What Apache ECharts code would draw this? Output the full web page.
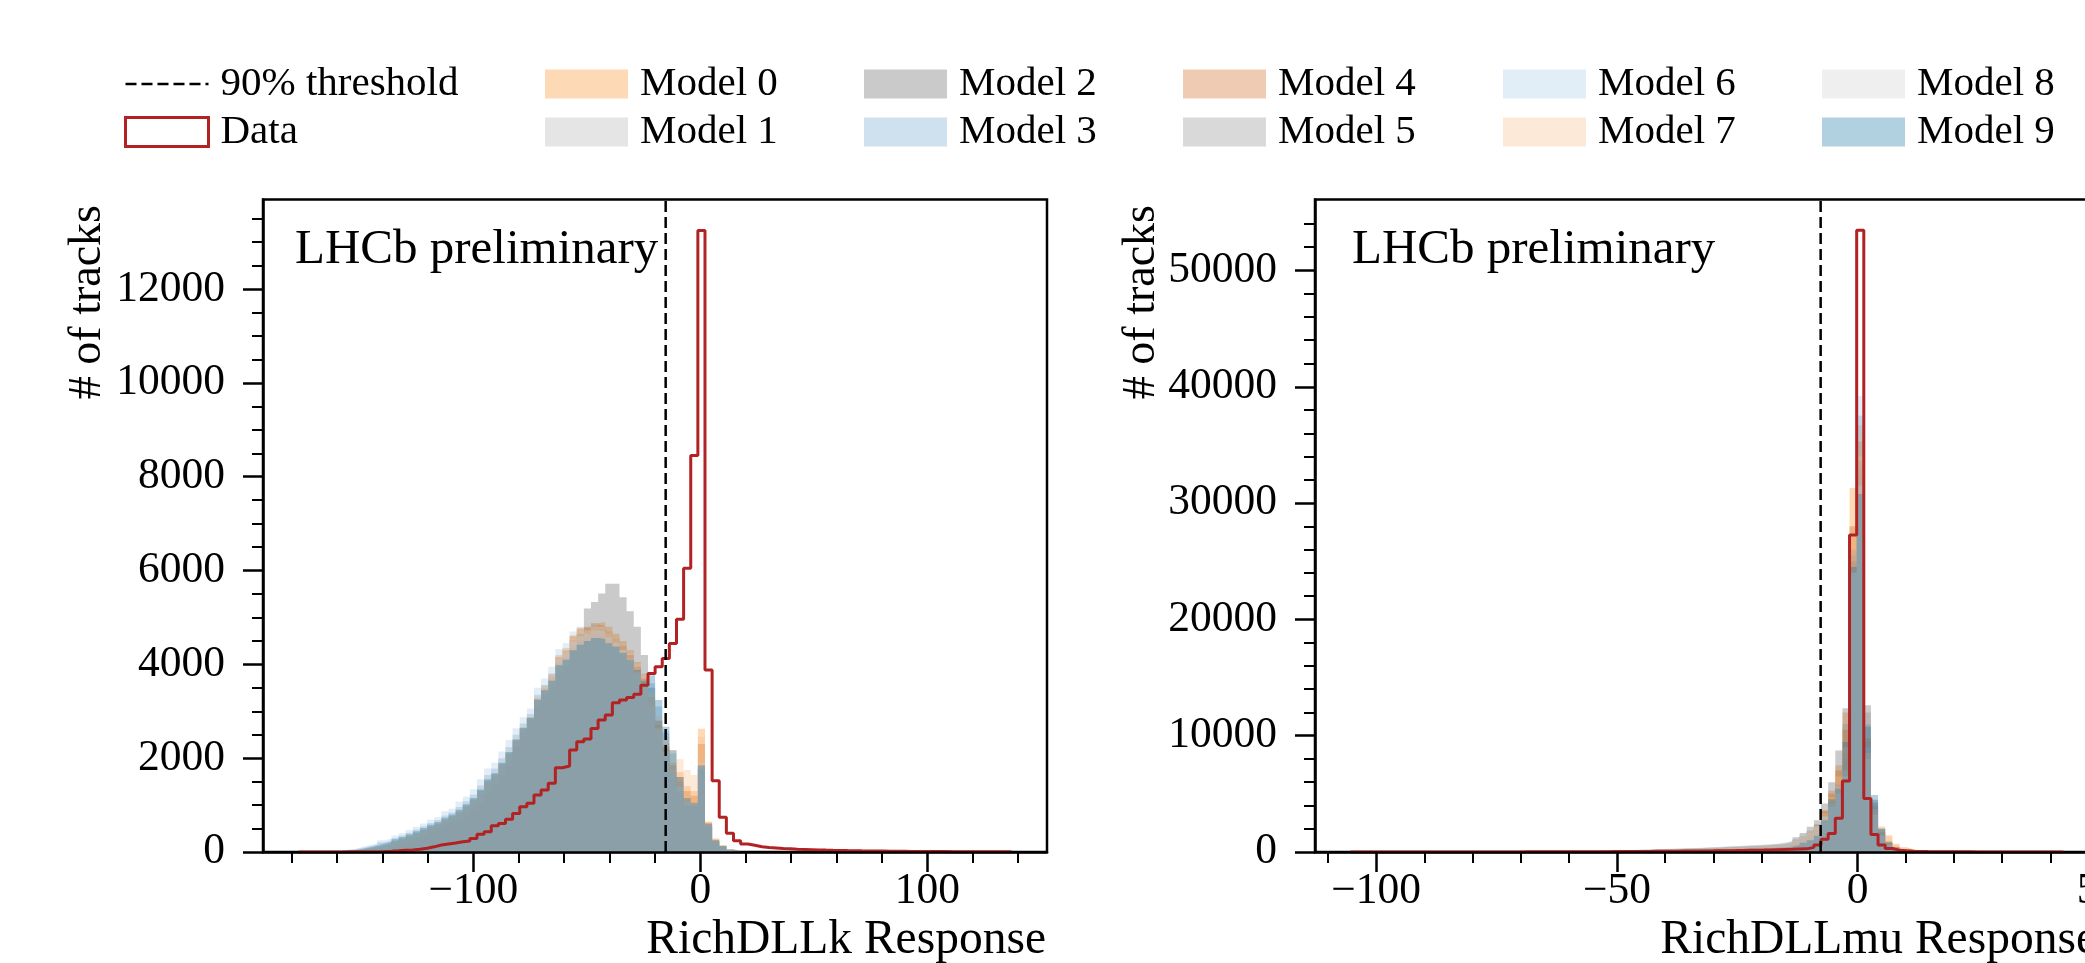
<!DOCTYPE html>
<html>
<head>
<meta charset="utf-8">
<script src="https://cdn.jsdelivr.net/npm/echarts@6/dist/echarts.min.js"></script>
<style>
html,body{margin:0;padding:0;background:#fff;}
#chart{width:2085px;height:963px;}
</style>
</head>
<body>
<div id="chart"></div>
<script>
// ---------------- DATA ----------------
// Histogram binning (100 equal bins per panel)
const dllkBinStart = -176.9, dllkBinWidth = 3.139;
const dllmuBinStart = -105.3, dllmuBinWidth = 1.48;

// 90% efficiency thresholds
const dllkThreshold = -15.3;
const dllmuThreshold = -7.7;

// Tick values
const dllkMajorTicks = [-100, 0, 100];
const dllkMinorTicks = [-180, -160, -140, -120, -80, -60, -40, -20, 20, 40, 60, 80, 120, 140];
const dllmuMajorTicks = [-100, -50, 0, 50];
const dllmuMinorTicks = [-110, -90, -80, -70, -60, -40, -30, -20, -10, 10, 20, 30, 40];
const dllkCountTicks = [0, 2000, 4000, 6000, 8000, 10000, 12000];
const dllkCountMinor = [500, 1000, 1500, 2500, 3000, 3500, 4500, 5000, 5500, 6500, 7000, 7500, 8500, 9000, 9500, 10500, 11000, 11500, 12500, 13000, 13500];
const dllmuCountTicks = [0, 10000, 20000, 30000, 40000, 50000];
const dllmuCountMinor = [2000, 4000, 6000, 8000, 12000, 14000, 16000, 18000, 22000, 24000, 26000, 28000, 32000, 34000, 36000, 38000, 42000, 44000, 46000, 48000, 52000, 54000];

const modelNames = ['Model 0','Model 1','Model 2','Model 3','Model 4','Model 5','Model 6','Model 7','Model 8','Model 9'];

// RichDLLk – data (red step histogram)
const dllkData = [0,1,1,1,2,2,3,3,4,5, 8,12,18,25,35,45,60,80,110,150, 170,190,220,235,290,376,430,560,610,700,
  820,965,1040,1214,1320,1463,1796,1832,2173,2350, 2407,2634,2812,2918,3181,3238,3294,3365,3557,3806,
  3948,4125,4445,4963,6050,8450,13250,3880,1520,740, 400,240,172,143,110,95,85,75,68,60,
  55,50,45,40,36,33,30,28,25,23, 21,19,17,15,14,13,12,11,10,9, 8,7,6,6,5,5,4,4,3,3];

// RichDLLk – models
const dllkModel0 = [1,2,4,6,10,14,20,30,50,70, 100,140,180,230,280,340,400,470,540,600, 690,760,860,980,1120,1300,1520,1660,1880,2120,
  2400,2650,2880,3300,3550,3800,4200,4350,4620,4750, 4800,4880,4900,4800,4650,4500,4300,4050,3800,3300,
  2800,2300,1900,1700,1400,1300,2630,650,290,150, 60,20];
const dllkModel1 = [1,3,5,8,12,16,24,35,55,80, 110,150,190,240,290,350,410,480,550,610, 700,770,870,990,1130,1310,1520,1660,1880,2110,
  2390,2640,2850,3250,3480,3700,4050,4180,4400,4520, 4580,4650,4640,4520,4400,4250,4080,3800,3500,3100,
  2500,2050,1650,1300,1000,970,1780,550,225,115, 45,12];
const dllkModel2 = [0,1,2,3,5,6,8,12,15,20, 30,40,80,110,170,220,290,340,430,500, 575,625,680,790,895,1040,1250,1430,1640,1850,
  2240,2560,2810,3100,3350,3480,3800,3950,4300,4650, 5190,5330,5510,5720,5720,5430,5130,4800,4200,3500,
  2800,2200,1700,1300,1000,980,1750,540,220,110, 40,10];
const dllkModel3 = [3,6,10,14,20,28,40,60,90,120, 160,210,250,300,350,410,480,550,620,680, 780,840,960,1080,1220,1420,1640,1780,2000,2240,
  2500,2740,2940,3350,3560,3800,4150,4280,4520,4650, 4680,4760,4740,4620,4500,4380,4200,3950,3700,3600,
  3100,2550,2100,1500,1100,1000,1820,580,240,120, 50,15];
const dllkModel4 = [1,2,3,5,8,12,18,28,45,65, 90,120,160,210,260,320,380,450,520,580, 660,730,830,940,1080,1260,1480,1620,1840,2080,
  2350,2620,2850,3250,3500,3750,4150,4300,4600,4780, 4780,4850,4820,4700,4550,4400,4200,3950,3700,3200,
  2700,2250,1850,1600,1300,1200,2300,620,260,130, 50,15];
const dllkModel5 = [1,2,4,7,10,15,22,32,50,75, 100,140,180,230,280,340,400,470,540,600, 690,760,860,980,1110,1300,1510,1650,1870,2100,
  2380,2630,2840,3230,3460,3680,4000,4120,4350,4480, 4520,4600,4580,4460,4330,4150,3990,3650,3300,2980,
  2400,2000,1600,1250,980,960,1760,545,222,112, 42,11];
const dllkModel6 = [5,8,12,18,25,35,50,70,110,150, 185,250,290,350,400,470,540,610,690,740, 870,920,1070,1180,1340,1550,1780,1900,2140,2390,
  2640,2870,3060,3500,3700,3950,4330,4450,4700,4800, 4750,4850,4800,4650,4500,4300,4100,3800,3500,3100,
  2600,2100,1700,1350,1050,1000,1800,560,230,120, 45,12];
const dllkModel7 = [1,2,4,6,9,13,20,30,48,70, 95,130,170,220,270,330,390,460,530,590, 680,740,850,960,1100,1280,1500,1650,1860,2100,
  2380,2640,2860,3280,3520,3770,4180,4320,4580,4700, 4720,4800,4820,4700,4560,4420,4250,4000,3780,3400,
  2900,2450,2170,1975,1750,1640,2450,640,280,140, 55,18];
const dllkModel8 = [2,4,7,11,16,22,32,48,75,105, 140,190,230,290,340,400,470,540,610,670, 770,830,950,1060,1200,1400,1610,1750,1980,2220,
  2480,2720,2920,3330,3540,3780,4120,4250,4480,4600, 4650,4720,4700,4580,4450,4300,4120,3850,3560,3200,
  2650,2150,1750,1400,1080,1020,1900,580,240,125, 48,14];
const dllkModel9 = [2,4,7,10,15,20,30,45,70,100, 140,180,220,270,320,380,440,510,580,640, 730,800,900,1020,1150,1330,1550,1680,1900,2130,
  2400,2650,2860,3250,3450,3650,3980,4100,4300,4420, 4500,4560,4540,4450,4380,4250,4100,3880,3650,3770,
  3240,2670,2170,1600,1150,1050,1850,600,250,130, 55,15];

// RichDLLmu – data
const dllmuData = [0,0,0,0,1,1,1,1,2,2, 2,3,3,3,4,4,5,5,6,6, 7,8,9,10,11,12,13,15,16,18,
  20,22,24,26,28,31,34,37,40,44, 48,52,56,60,65,70,76,82,88,95, 102,110,118,126,135,145,155,165,180,200,
  215,230,250,270,400,600,1100,1600,2900,6100, 27250,53450,4600,1500,600,300,160,100,70,50,
  40,32,26,21,17,14,12,10,8,7, 6,5,4,4,3,3,2,2,1,1];

// RichDLLmu – models
const dllmuModel0 = [0, 0,0,0,1,1,1,2,2,2,3, 3,4,5,6,7,8,10,12,14,15, 17,20,24,28,32,37,42,48,54,61,
  68,76,85,94,104,115,128,140,153,166, 179,196,213,230,247,264,281,298,323,349, 374,400,425,450,476,500,527,561,612,672,
  765,1080,1390,1850,2320,3500,5270,7450,12000,31300, 36700,9000,4000,2200,1450,700,400,230,140,90, 60,40,28,20,12,8];
const dllmuModel1 = [0, 0,0,0,0,1,1,1,1,2,2, 3,3,4,5,6,7,8,10,11,13, 14,17,20,23,27,31,35,40,45,50,
  56,63,70,77,85,95,105,115,126,136, 147,161,175,189,203,217,231,245,266,287, 308,329,350,371,392,413,434,462,504,553,
  630,860,1150,1500,2000,2900,4000,5300,8500,24800, 32500,11000,3800,1600,750,380,200,110,65,40, 25,16,10,7,4,2];
const dllmuModel2 = [0, 0,0,0,1,1,1,2,2,3,3, 4,5,6,7,8,10,11,13,15,17, 19,23,27,31,36,42,48,54,61,68,
  76,86,95,105,116,128,143,157,171,185, 200,219,238,257,276,295,314,333,361,390, 418,447,475,504,532,561,589,627,684,750,
  900,1270,1640,2180,2725,4180,6000,8720,12360,25000, 33600,12610,4500,2000,900,450,250,140,80,50, 30,20,13,8,5,3];
const dllmuModel3 = [0, 0,0,0,1,1,1,2,2,3,3, 4,5,5,6,7,9,11,13,14,16, 18,22,25,30,34,40,45,51,58,65,
  72,81,90,99,110,122,135,149,162,176, 189,207,225,243,261,279,297,315,342,369, 396,423,450,477,504,531,558,594,648,711,
  810,1050,1350,1700,2200,3200,4300,5800,8000,25500, 37500,9500,4300,1900,800,400,220,120,70,45, 30,20,13,9,6,4];
const dllmuModel4 = [0, 0,0,0,1,1,1,2,2,2,2, 3,4,5,6,6,8,10,11,13,14, 16,19,22,26,30,35,40,46,51,58,
  64,72,80,88,98,108,120,132,144,156, 168,184,200,216,232,248,264,280,304,328, 352,376,400,424,448,472,496,528,576,632,
  720,980,1300,1800,2400,3600,5000,7000,10500,28000, 35300,9800,3600,1700,900,450,250,140,85,55, 35,24,16,10,6,4];
const dllmuModel5 = [0, 0,0,0,0,1,1,1,1,2,2, 3,3,4,5,5,6,8,9,10,12, 13,16,18,21,25,29,33,37,42,47,
  52,59,65,72,79,88,98,107,117,127, 137,150,163,176,189,202,215,228,247,267, 286,306,325,345,364,384,403,429,468,514,
  585,800,1100,1450,1900,2800,4200,5800,11000,26000, 33000,12000,4200,1700,750,350,180,100,60,35, 22,14,9,6,4,2];
const dllmuModel6 = [0, 0,0,0,1,1,1,2,2,3,3, 4,5,6,7,8,10,12,14,16,18, 20,24,28,33,38,44,50,57,64,72,
  80,90,100,110,122,135,150,165,180,195, 210,230,250,270,290,310,330,350,380,410, 440,470,500,530,560,590,620,660,720,790,
  900,1200,1500,1900,2400,3100,4200,5600,7000,24000, 39200,9000,3500,1500,700,350,190,110,65,40, 26,17,11,7,5,3];
const dllmuModel7 = [0, 0,0,0,1,1,1,1,2,2,2, 3,4,4,5,6,8,9,11,12,14, 15,18,21,25,29,33,38,43,48,54,
  60,68,75,83,92,101,113,124,135,146, 158,173,188,203,218,233,248,263,285,308, 330,353,375,398,420,443,465,495,540,593,
  675,950,1250,1650,2200,3300,4700,6500,9000,27200, 34000,8500,3700,2000,1300,650,380,220,130,85, 55,38,26,18,12,8];
const dllmuModel8 = [0, 0,0,1,1,1,2,2,3,3,4, 4,5,6,8,9,11,13,15,17,19, 22,25,30,34,40,46,52,59,67,75,
  83,93,104,115,127,140,155,170,186,202, 218,237,257,278,298,318,339,360,390,420, 452,483,514,545,575,606,637,678,740,812,
  980,1100,1400,1800,2200,3000,3900,5000,6540,24000, 31500,8000,3200,1400,650,320,170,95,55,35, 22,14,9,6,4,2];
const dllmuModel9 = [0, 0,0,0,0,0,1,1,1,1,2, 2,2,3,3,4,5,6,7,8,9, 10,12,14,16,19,22,25,28,32,36,
  40,45,50,55,61,68,75,82,90,98, 105,115,125,135,145,155,165,175,190,205, 220,235,250,265,280,295,310,330,360,395,
  480,600,800,1000,1400,2725,4540,5450,9450,24500, 30780,10790,4900,2000,800,300,150,80,45,25, 15,10,6,4,2,1];

const dllkModels = [dllkModel0,dllkModel1,dllkModel2,dllkModel3,dllkModel4,dllkModel5,dllkModel6,dllkModel7,dllkModel8,dllkModel9];
const dllmuModels = [dllmuModel0,dllmuModel1,dllmuModel2,dllmuModel3,dllmuModel4,dllmuModel5,dllmuModel6,dllmuModel7,dllmuModel8,dllmuModel9];

// ---------------- STYLE ----------------
const FONT = '"Liberation Serif", "Times New Roman", serif';
const RED = '#b22222';
const modelColors = ['rgba(249,140,34,0.33)','rgba(176,176,176,0.33)','rgba(94,94,94,0.33)','rgba(110,161,206,0.33)',
  'rgba(203,97,22,0.33)','rgba(140,140,140,0.33)','rgba(164,200,231,0.33)','rgba(249,188,137,0.33)',
  'rgba(206,206,206,0.33)','rgba(22,116,161,0.33)'];

const dllkRange = [-192.7, 152.7], dllmuRange = [-112.7, 50.1];
const dllkYMax = 13910, dllmuYMax = 56100;

// ---------------- BUILD ----------------
function histPoints(counts, lo, w) {
  const pts = [[lo, 0]];
  for (let i = 0; i < counts.length; i++) pts.push([lo + i * w, counts[i]]);
  const hi = lo + counts.length * w;
  pts.push([hi, counts[counts.length - 1]]);
  pts.push([hi, 0]);
  return pts;
}
const fmtMinus = v => (v < 0 ? '\u2212' + Math.abs(v) : String(v));
const TICK_FS = 43.5;

function mainX(gi, range, majors) {
  return {type:'value', gridIndex:gi, min:range[0], max:range[1], position:'bottom', z:5,
    axisLine:{show:true, onZero:false, lineStyle:{color:'#000', width:2.5}},
    axisTick:{show:true, customValues:majors, length:20, lineStyle:{color:'#000', width:2.5}},
    axisLabel:{show:true, customValues:majors, margin:18, verticalAlign:'top', align:'center', color:'#000', fontSize:TICK_FS, fontFamily:FONT, formatter:fmtMinus},
    splitLine:{show:false}};
}
function minorX(gi, range, minors) {
  return {type:'value', gridIndex:gi, min:range[0], max:range[1], position:'bottom', z:5,
    axisLine:{show:false, onZero:false},
    axisTick:{show:true, customValues:minors, length:11, lineStyle:{color:'#000', width:2}},
    axisLabel:{show:false}, splitLine:{show:false}};
}
function mainY(gi, ymax, majors) {
  return {type:'value', gridIndex:gi, min:0, max:ymax, position:'left', z:5,
    axisLine:{show:true, onZero:false, lineStyle:{color:'#000', width:2.5}},
    axisTick:{show:true, customValues:majors, length:20, lineStyle:{color:'#000', width:2.5}},
    axisLabel:{show:true, customValues:majors, margin:38, color:'#000', fontSize:TICK_FS, fontFamily:FONT, formatter:v => String(v)},
    splitLine:{show:false}};
}
function minorY(gi, ymax, minors) {
  return {type:'value', gridIndex:gi, min:0, max:ymax, position:'left', z:5,
    axisLine:{show:false, onZero:false},
    axisTick:{show:true, customValues:minors, length:11, lineStyle:{color:'#000', width:2}},
    axisLabel:{show:false}, splitLine:{show:false}};
}

const series = [];
function addPanel(gi, models, data, lo, w, thr, ymax) {
  models.forEach((m, i) => {
    series.push({type:'line', name:modelNames[i], xAxisIndex:2*gi, yAxisIndex:2*gi,
      data:histPoints(m, lo, w), step:'end', symbol:'none', showSymbol:false, silent:true,
      color:modelColors[i], itemStyle:{color:modelColors[i]},
      lineStyle:{width:0, opacity:0}, areaStyle:{color:modelColors[i], opacity:1}});
  });
  series.push({type:'line', name:'Data', xAxisIndex:2*gi, yAxisIndex:2*gi,
    data:histPoints(data, lo, w), step:'end', symbol:'none', showSymbol:false, silent:true,
    color:RED, itemStyle:{color:RED}, lineStyle:{color:RED, width:3}});
  series.push({type:'line', name:'90% threshold', xAxisIndex:2*gi, yAxisIndex:2*gi,
    data:[[thr, 0], [thr, ymax]], symbol:'none', showSymbol:false, silent:true,
    color:'#000', itemStyle:{color:'#000'}, lineStyle:{color:'#000', width:2.5, type:[11,5]}});
}
addPanel(0, dllkModels, dllkData, dllkBinStart, dllkBinWidth, dllkThreshold, dllkYMax);
addPanel(1, dllmuModels, dllmuData, dllmuBinStart, dllmuBinWidth, dllmuThreshold, dllmuYMax);

const legendCommon = {orient:'vertical', top:63.5, itemWidth:83, itemHeight:29, itemGap:7, padding:0,
  selectedMode:false, textStyle:{fontFamily:FONT, fontSize:41, color:'#000', padding:[0,0,0,7]}};
const modelItem = i => ({name:modelNames[i], icon:'rect', itemStyle:{color:modelColors[i], borderWidth:0}});
const legendCols = [124, 545, 864, 1183, 1503, 1822];

const txt = (x, y, text, size, align, rot) => ({type:'text', x:x, y:y, rotation:rot || 0, z:100, silent:true,
  style:{text:text, font:size + 'px ' + FONT, fill:'#000', align:align, verticalAlign:'middle',
    textAlign:align, textVerticalAlign:'middle'}});

const option = {
  animation:false,
  backgroundColor:'#fff',
  grid:[
    {left:263, top:199.5, width:784, height:652.5, containLabel:false, outerBoundsMode:'none', show:true, borderColor:'#000', borderWidth:2.5, backgroundColor:'transparent'},
    {left:1315, top:199.5, width:784, height:652.5, containLabel:false, outerBoundsMode:'none', show:true, borderColor:'#000', borderWidth:2.5, backgroundColor:'transparent'}
  ],
  xAxis:[mainX(0, dllkRange, dllkMajorTicks), minorX(0, dllkRange, dllkMinorTicks),
         mainX(1, dllmuRange, dllmuMajorTicks), minorX(1, dllmuRange, dllmuMinorTicks)],
  yAxis:[mainY(0, dllkYMax, dllkCountTicks), minorY(0, dllkYMax, dllkCountMinor),
         mainY(1, dllmuYMax, dllmuCountTicks), minorY(1, dllmuYMax, dllmuCountMinor)],
  legend:[
    Object.assign({}, legendCommon, {left:legendCols[0], data:[
      {name:'90% threshold', itemStyle:{opacity:0}, lineStyle:{color:'#000', width:2.5, type:[11,5]}},
      {name:'Data', icon:'rect', itemStyle:{color:'#fff', borderColor:RED, borderWidth:3}}]}),
    Object.assign({}, legendCommon, {left:legendCols[1], data:[modelItem(0), modelItem(1)]}),
    Object.assign({}, legendCommon, {left:legendCols[2], data:[modelItem(2), modelItem(3)]}),
    Object.assign({}, legendCommon, {left:legendCols[3], data:[modelItem(4), modelItem(5)]}),
    Object.assign({}, legendCommon, {left:legendCols[4], data:[modelItem(6), modelItem(7)]}),
    Object.assign({}, legendCommon, {left:legendCols[5], data:[modelItem(8), modelItem(9)]})
  ],
  graphic:[
    txt(88, 205, '# of tracks', 46, 'right', Math.PI / 2),
    txt(1142, 205, '# of tracks', 46, 'right', Math.PI / 2),
    txt(1046, 941, 'RichDLLk Response', 47.5, 'right'),
    txt(2097, 941, 'RichDLLmu Response', 47.5, 'right'),
    txt(295, 250, 'LHCb preliminary', 49, 'left'),
    txt(1352, 250, 'LHCb preliminary', 49, 'left')
  ],
  series:series
};

const chart = echarts.init(document.getElementById('chart'), null, {renderer:'canvas', width:2085, height:963});
chart.setOption(option);
</script>
</body>
</html>
